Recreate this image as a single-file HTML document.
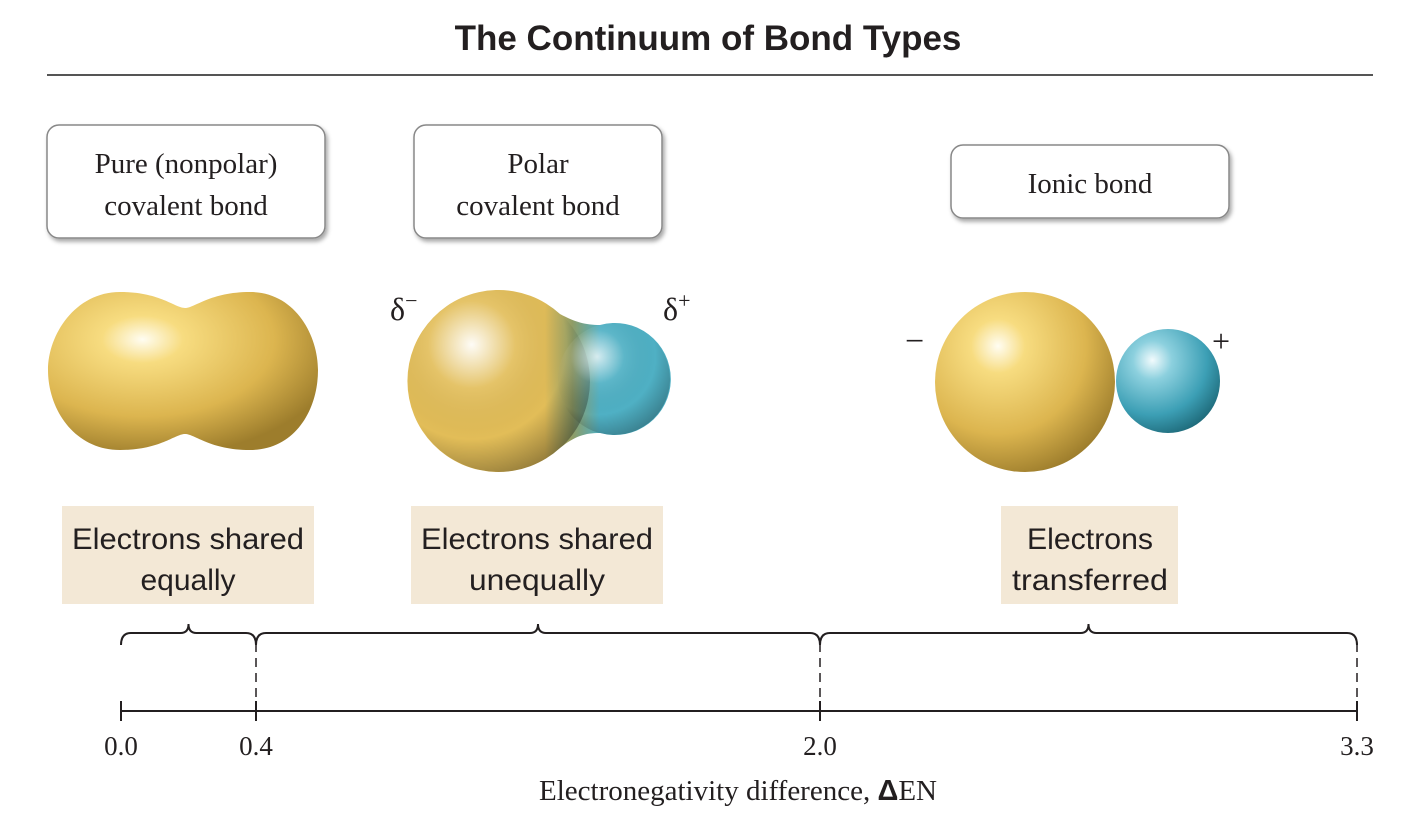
<!DOCTYPE html>
<html><head><meta charset="utf-8"><style>
body{margin:0;background:#fff;}
svg{display:block;}
.serif{font-family:"Liberation Serif",serif;fill:#231f20;}
.sans{font-family:"Liberation Sans",sans-serif;fill:#231f20;}
</style></head><body>
<svg id="c" width="1408" height="830" viewBox="0 0 1408 830">
<defs>
<radialGradient id="gold" cx="0.35" cy="0.3" r="0.75">
<stop offset="0" stop-color="#fffdf2"/><stop offset="0.2" stop-color="#f7dc80"/><stop offset="0.65" stop-color="#dcb54f"/><stop offset="1" stop-color="#9d7d2c"/></radialGradient>
<radialGradient id="teal" cx="0.35" cy="0.3" r="0.75">
<stop offset="0" stop-color="#f2fbfd"/><stop offset="0.25" stop-color="#8cd0de"/><stop offset="0.7" stop-color="#3c9fb5"/><stop offset="1" stop-color="#1f6b7b"/></radialGradient>
<linearGradient id="polarFill" gradientUnits="userSpaceOnUse" x1="545" y1="0" x2="600" y2="0">
<stop offset="0" stop-color="#e2bd58"/><stop offset="0.5" stop-color="#8f9c66"/><stop offset="1" stop-color="#4fb0c4"/></linearGradient>
<radialGradient id="shade" cx="0.35" cy="0.3" r="0.8">
<stop offset="0" stop-color="#fff" stop-opacity="0.95"/><stop offset="0.3" stop-color="#fff" stop-opacity="0.1"/><stop offset="0.65" stop-color="#000" stop-opacity="0"/><stop offset="1" stop-color="#000" stop-opacity="0.4"/></radialGradient>
<clipPath id="polarClip"><path d="M560,314 C575,322 585,325 600,325 A56,56 0 1,1 600,433 C585,433 575,436 560,448 A91,91 0 1,1 560,314 Z"/></clipPath>
<filter id="sh" x="-10%" y="-10%" width="130%" height="140%"><feDropShadow dx="2" dy="3" stdDeviation="2" flood-color="#000" flood-opacity="0.35"/></filter>
</defs>
<text class="sans" x="708" y="50" text-anchor="middle" font-size="35" font-weight="bold">The Continuum of Bond Types</text>
<line x1="47" y1="75" x2="1373" y2="75" stroke="#555" stroke-width="2"/>

<g>
<rect x="47" y="125" width="278" height="113" rx="12" fill="#fff" stroke="#888" stroke-width="1.5" filter="url(#sh)"/>
<text class="serif" x="186" y="173" text-anchor="middle" font-size="29">Pure (nonpolar)</text>
<text class="serif" x="186" y="215" text-anchor="middle" font-size="29">covalent bond</text></g>
<g>
<rect x="414" y="125" width="248" height="113" rx="12" fill="#fff" stroke="#888" stroke-width="1.5" filter="url(#sh)"/>
<text class="serif" x="538" y="173" text-anchor="middle" font-size="29">Polar</text>
<text class="serif" x="538" y="215" text-anchor="middle" font-size="29">covalent bond</text></g>
<g>
<rect x="951" y="145" width="278" height="73" rx="12" fill="#fff" stroke="#888" stroke-width="1.5" filter="url(#sh)"/>
<text class="serif" x="1090" y="193" text-anchor="middle" font-size="29">Ionic bond</text></g>

<g>
<path d="M120,292 C160,292 175,308 185,308 C195,308 210,292 250,292 C295,292 318,335 318,370 C318,410 295,450 250,450 C210,450 195,434 185,434 C175,434 160,450 120,450 C75,450 48,410 48,370 C48,335 75,292 120,292Z" fill="url(#gold)"/></g>

<g>
<g clip-path="url(#polarClip)">
<rect x="400" y="280" width="280" height="200" fill="url(#polarFill)"/>
<circle cx="499" cy="381" r="91" fill="url(#shade)"/>
<circle cx="614" cy="379" r="56" fill="url(#shade)" opacity="0.8"/>
</g>
<text class="serif" x="390" y="320" font-size="32">δ<tspan font-size="22" dy="-12">−</tspan></text>
<text class="serif" x="663" y="320" font-size="32">δ<tspan font-size="22" dy="-12">+</tspan></text></g>

<g>
<circle cx="1168" cy="381" r="52" fill="url(#teal)"/>
<circle cx="1025" cy="382" r="90" fill="url(#gold)"/>
<text class="serif" x="905" y="352" font-size="34">−</text>
<text class="serif" x="1212" y="352" font-size="32">+</text></g>

<g>
<rect x="62" y="506" width="252" height="98" fill="#f3e8d6"/>
<text class="sans" x="188" y="549" text-anchor="middle" font-size="30" textLength="232" lengthAdjust="spacingAndGlyphs">Electrons shared</text>
<text class="sans" x="188" y="590" text-anchor="middle" font-size="30">equally</text></g>
<g>
<rect x="411" y="506" width="252" height="98" fill="#f3e8d6"/>
<text class="sans" x="537" y="549" text-anchor="middle" font-size="30" textLength="232" lengthAdjust="spacingAndGlyphs">Electrons shared</text>
<text class="sans" x="537" y="590" text-anchor="middle" font-size="30" textLength="136" lengthAdjust="spacingAndGlyphs">unequally</text></g>
<g>
<rect x="1001" y="506" width="177" height="98" fill="#f3e8d6"/>
<text class="sans" x="1090" y="549" text-anchor="middle" font-size="30" textLength="126" lengthAdjust="spacingAndGlyphs">Electrons</text>
<text class="sans" x="1090" y="590" text-anchor="middle" font-size="30" textLength="156" lengthAdjust="spacingAndGlyphs">transferred</text></g>

<g id="axis"></g>
<text class="serif" x="738" y="800" text-anchor="middle" font-size="29">Electronegativity difference, <tspan font-family="Liberation Sans" font-weight="bold">Δ</tspan>EN</text>
</svg>
<script>
const tickValues=[0.0,0.4,2.0,3.3];
const tickLabels=["0.0","0.4","2.0","3.3"];
const boundaries=[0.0,0.4,2.0,3.3];
const anchorPx=[121,256,820,1357];
function xScale(v){
  for(let i=0;i<tickValues.length-1;i++){
    if(v<=tickValues[i+1]||i===tickValues.length-2){
      const t=(v-tickValues[i])/(tickValues[i+1]-tickValues[i]);
      return anchorPx[i]+t*(anchorPx[i+1]-anchorPx[i]);
    }
  }
}
const NS="http://www.w3.org/2000/svg";
const g=document.getElementById('axis');
function mk(tag,attrs){const e=document.createElementNS(NS,tag);for(const k in attrs)e.setAttribute(k,attrs[k]);g.appendChild(e);return e;}
const yA=711;
let l=mk('line',{x1:xScale(tickValues[0]),x2:xScale(tickValues[tickValues.length-1]),y1:yA,y2:yA,stroke:'#231f20','stroke-width':2});


tickValues.forEach((v,i)=>{
  const x=xScale(v);
  const t=mk('line',{x1:x,x2:x,y1:701,y2:721,stroke:'#231f20','stroke-width':2});
  
  
  const tx=mk('text',{x:x,y:755,'text-anchor':'middle','font-size':27,'class':'serif'});
  tx.textContent=tickLabels[i];
  
  
  if(i>0){
    const d=mk('line',{x1:x,x2:x,y1:643,y2:711,stroke:'#231f20','stroke-width':1.5,'stroke-dasharray':'9,6'});
    
    
  }
});
for(let i=0;i<boundaries.length-1;i++){
  const a=xScale(boundaries[i]),b=xScale(boundaries[i+1]),m=(a+b)/2,y=633,r=10;
  const p=mk('path',{d:`M${a},${y+12} Q${a},${y} ${a+r},${y} L${m-8},${y} Q${m},${y} ${m},${y-9} Q${m},${y} ${m+8},${y} L${b-r},${y} Q${b},${y} ${b},${y+12}`,fill:'none',stroke:'#231f20','stroke-width':2});
  
  
}
</script>
</body></html>
